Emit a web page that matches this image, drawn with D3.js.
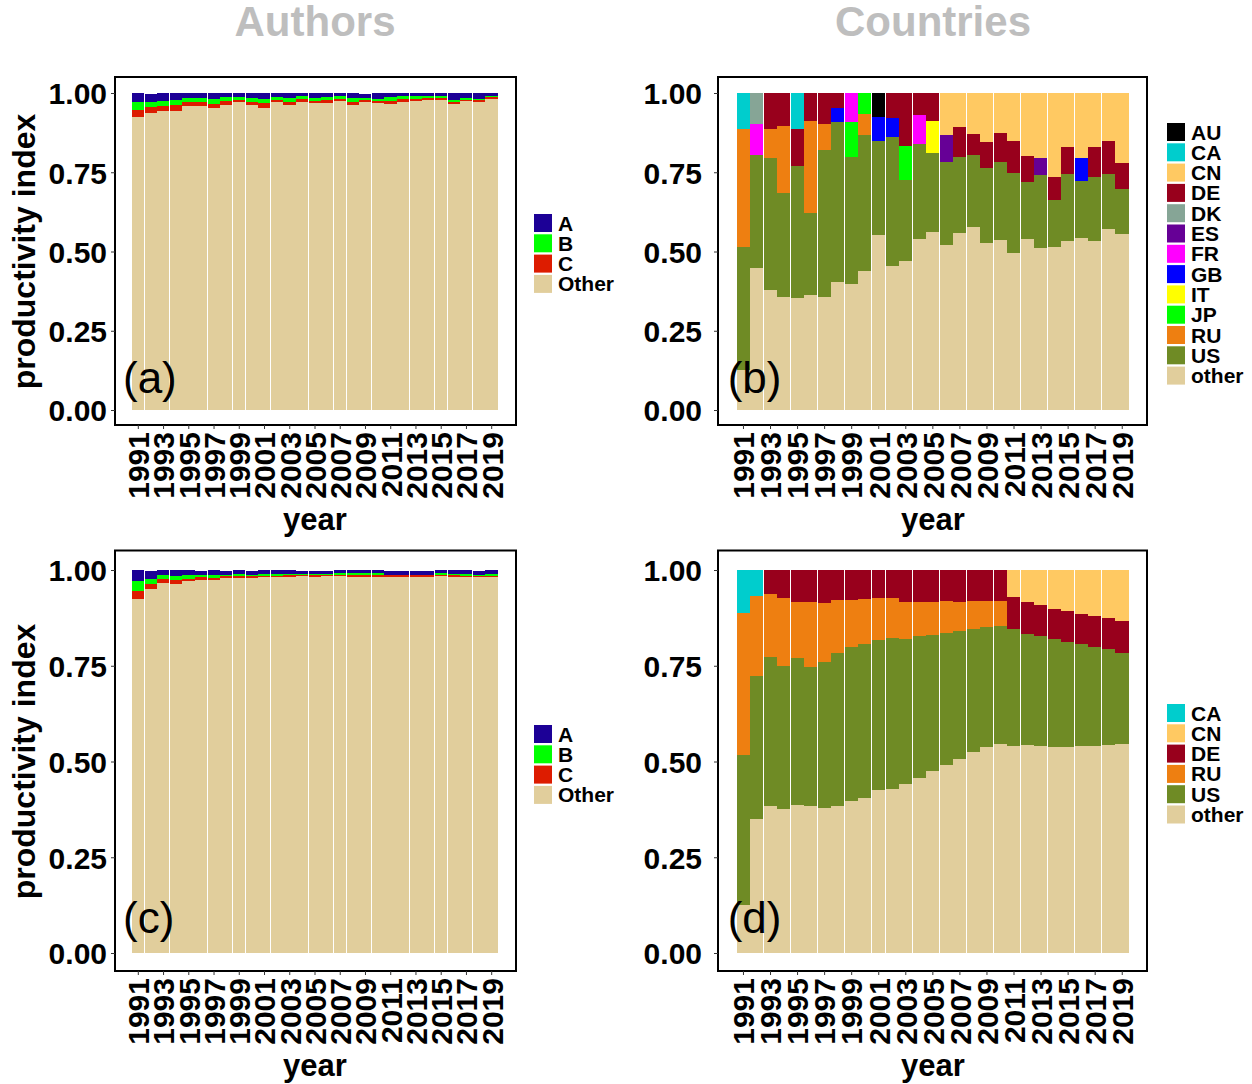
<!DOCTYPE html>
<html>
<head>
<meta charset="utf-8">
<script src="https://cdn.jsdelivr.net/npm/d3@7/dist/d3.min.js"></script>
<style>
  body { margin: 0; background: #fff; }
  svg { display: block; font-family: "Liberation Sans", Arial, Helvetica, sans-serif; }
</style>
</head>
<body>
<div id="chart"></div>
<script>
// years shown on every panel, and the ones that get a tick label
const years = [1991, 1992, 1993, 1994, 1995, 1996, 1997, 1998, 1999, 2000, 2001, 2002, 2003, 2004, 2005,
  2006, 2007, 2008, 2009, 2010, 2011, 2012, 2013, 2014, 2015, 2016, 2017, 2018, 2019]
const tickYears = [1991, 1993, 1995, 1997, 1999, 2001, 2003, 2005, 2007, 2009, 2011, 2013, 2015, 2017, 2019]
const yTicks = [0, 0.25, 0.5, 0.75, 1]

// panel (a) authors
const aOther = [.924, .937, .943, .943, .959, .959, .953, .962, .972, .962, .953, .972, .962, .972, .968, .968, .975, .962, .972, .968, .965, .972, .975, .978, .978, .965, .975, .972, .981]
const aC = [.022, .019, .016, .019, .013, .013, .012, .013, .006, .010, .016, .006, .010, .009, .006, .010, .006, .010, .006, .006, .009, .009, .006, .006, .006, .006, .003, .006, .006]
const aB = [.026, .016, .016, .016, .012, .012, .016, .012, .010, .012, .013, .010, .012, .010, .010, .009, .010, .012, .006, .006, .013, .010, .010, .006, .006, .006, .006, .003, .003]
const aA = [.028, .025, .025, .022, .016, .016, .019, .013, .012, .016, .019, .012, .016, .009, .016, .013, .009, .016, .013, .019, .013, .009, .009, .010, .010, .022, .016, .019, .010]

// panel (c) authors
const cOther = [.924, .950, .966, .963, .971, .974, .974, .979, .979, .979, .982, .982, .982, .984, .982, .984, .984, .982, .982, .982, .982, .982, .982, .982, .984, .982, .982, .982, .982]
const cC = [.021, .013, .010, .011, .005, .008, .005, .005, .005, .005, .003, .003, .005, .003, .005, .003, .003, .005, .005, .005, .005, .005, .005, .005, .003, .005, .003, .003, .003]
const cB = [.026, .014, .011, .010, .011, .005, .008, .003, .005, .003, .005, .005, .003, .003, .003, .003, .005, .005, .005, .005, .001, .001, .001, .001, .005, .003, .005, .003, .005]
const cA = [.029, .020, .013, .016, .013, .010, .013, .010, .011, .010, .010, .010, .010, .008, .008, .008, .008, .008, .008, .008, .010, .010, .010, .010, .008, .010, .010, .010, .010]

// panel (b) countries
const bOther = [.126, .447, .380, .355, .352, .364, .358, .405, .396, .437, .553, .455, .471, .540, .562, .521, .559, .578, .528, .537, .496, .540, .512, .515, .534, .543, .534, .572, .556]
const bUS = [.389, .357, .415, .328, .418, .256, .463, .504, .403, .430, .295, .406, .255, .299, .248, .261, .239, .226, .235, .245, .252, .179, .229, .148, .211, .180, .201, .173, .141]
const bRU = [.372, 0, .092, .212, 0, .292, .081, 0, 0, .067, 0, 0, 0, 0, 0, 0, 0, 0, 0, 0, 0, 0, 0, 0, 0, 0, 0, 0, 0]
const bJP = [0, 0, 0, 0, 0, 0, 0, 0, .110, .066, 0, 0, .106, 0, 0, 0, 0, 0, 0, 0, 0, 0, 0, 0, 0, 0, 0, 0, 0]
const bIT = [0, 0, 0, 0, 0, 0, 0, 0, 0, 0, 0, 0, 0, 0, .101, 0, 0, 0, 0, 0, 0, 0, 0, 0, 0, 0, 0, 0, 0]
const bGB = [0, 0, 0, 0, 0, 0, 0, .044, 0, 0, .076, .059, 0, 0, 0, 0, 0, 0, 0, 0, 0, 0, 0, 0, 0, .072, 0, 0, 0]
const bFR = [0, .099, 0, 0, 0, 0, 0, 0, .091, 0, 0, 0, 0, .091, 0, 0, 0, 0, 0, 0, 0, 0, 0, 0, 0, 0, 0, 0, 0]
const bES = [0, 0, 0, 0, 0, 0, 0, 0, 0, 0, 0, 0, 0, 0, 0, .085, 0, 0, 0, 0, 0, 0, .054, 0, 0, 0, 0, 0, 0]
const bDK = [0, .097, 0, 0, 0, 0, 0, 0, 0, 0, 0, 0, 0, 0, 0, 0, 0, 0, 0, 0, 0, 0, 0, 0, 0, 0, 0, 0, 0]
const bDE = [0, 0, .113, .105, .117, .088, .098, .047, 0, 0, 0, .080, .168, .070, .089, 0, .094, .066, .082, .091, .100, .082, 0, .072, .084, 0, .094, .103, .082]
const bCN = [0, 0, 0, 0, 0, 0, 0, 0, 0, 0, 0, 0, 0, 0, 0, .133, .108, .130, .155, .127, .152, .199, .205, .265, .171, .205, .171, .152, .221]
const bCA = [.113, 0, 0, 0, .113, 0, 0, 0, 0, 0, 0, 0, 0, 0, 0, 0, 0, 0, 0, 0, 0, 0, 0, 0, 0, 0, 0, 0, 0]
const bAU = [0, 0, 0, 0, 0, 0, 0, 0, 0, 0, .076, 0, 0, 0, 0, 0, 0, 0, 0, 0, 0, 0, 0, 0, 0, 0, 0, 0, 0]

// panel (d) countries
const dOther = [.125, .350, .384, .376, .386, .384, .379, .384, .397, .405, .426, .428, .441, .457, .475, .491, .507, .525, .538, .546, .540, .543, .540, .538, .538, .540, .540, .543, .546]
const dUS = [.392, .373, .389, .373, .384, .363, .381, .399, .402, .402, .391, .394, .379, .371, .355, .345, .334, .321, .313, .308, .306, .290, .288, .282, .274, .267, .259, .251, .237]
const dRU = [.371, .210, .164, .178, .146, .169, .154, .139, .123, .117, .110, .105, .096, .088, .086, .083, .075, .073, .068, .065, 0, 0, 0, 0, 0, 0, 0, 0, 0]
const dDE = [0, 0, .063, .073, .084, .084, .086, .078, .078, .076, .073, .073, .084, .084, .084, .081, .084, .081, .081, .081, .083, .083, .081, .078, .081, .078, .081, .081, .084]
const dCN = [0, 0, 0, 0, 0, 0, 0, 0, 0, 0, 0, 0, 0, 0, 0, 0, 0, 0, 0, 0, .071, .084, .091, .102, .107, .115, .120, .125, .133]
const dCA = [.112, .067, 0, 0, 0, 0, 0, 0, 0, 0, 0, 0, 0, 0, 0, 0, 0, 0, 0, 0, 0, 0, 0, 0, 0, 0, 0, 0, 0]

// legend order (top to bottom); stacks go the other way
const authorKeys = ['A', 'B', 'C', 'Other']
const countryKeysB = ['AU', 'CA', 'CN', 'DE', 'DK', 'ES', 'FR', 'GB', 'IT', 'JP', 'RU', 'US', 'other']
const countryKeysD = ['CA', 'CN', 'DE', 'RU', 'US', 'other']

const colors = {
  A: '#1c0096', B: '#00ff00', C: '#dd1c00', Other: '#e1ce9c',
  AU: '#000000', CA: '#00cdcd', CN: '#ffc962', DE: '#98001c', DK: '#86a596', ES: '#660096',
  FR: '#ff00ff', GB: '#0000ff', IT: '#ffff00', JP: '#00ff00', RU: '#ee7f11', US: '#6f8b25', other: '#e1ce9c'
}

const width = 1252
const height = 1084

const svg = d3.select('#chart').append('svg')
  .attr('width', width)
  .attr('height', height)

svg.append('text').attr('x', 315).attr('y', 36).attr('text-anchor', 'middle')
  .attr('font-size', 42).attr('font-weight', 'bold').attr('fill', '#bebebe').text('Authors')
svg.append('text').attr('x', 933).attr('y', 36).attr('text-anchor', 'middle')
  .attr('font-size', 42).attr('font-weight', 'bold').attr('fill', '#bebebe').text('Countries')

const panels = [
  { tag: '(a)', keys: authorKeys, series: { A: aA, B: aB, C: aC, Other: aOther },
    box: [115, 77, 516, 425], xr: [132, 498], yr: [410, 93], pad: 4, ylab: true, legX: 534, legY: 214, tagY: 393 },
  { tag: '(b)', keys: countryKeysB,
    series: { AU: bAU, CA: bCA, CN: bCN, DE: bDE, DK: bDK, ES: bES, FR: bFR, GB: bGB, IT: bIT, JP: bJP, RU: bRU, US: bUS, other: bOther },
    box: [718, 77, 1147, 425], xr: [736.7, 1129], yr: [410, 93], pad: 12, ylab: false, legX: 1167, legY: 123, tagY: 393 },
  { tag: '(c)', keys: authorKeys, series: { A: cA, B: cB, C: cC, Other: cOther },
    box: [115, 550.5, 516, 971], xr: [132, 498], yr: [953, 570], pad: 4, ylab: true, legX: 534, legY: 725, tagY: 933 },
  { tag: '(d)', keys: countryKeysD, series: { CA: dCA, CN: dCN, DE: dDE, RU: dRU, US: dUS, other: dOther },
    box: [718, 550.5, 1147, 971], xr: [736.7, 1129], yr: [953, 570], pad: 12, ylab: false, legX: 1167, legY: 704, tagY: 933 }
]

panels.forEach(drawPanel)

function drawPanel(p) {
  const [bx0, by0, bx1, by1] = p.box
  const rows = years.map((year, i) => {
    const row = { year }
    p.keys.forEach(k => { row[k] = p.series[k][i] })
    return row
  })
  const stackKeys = p.keys.slice().reverse()
  const stacked = d3.stack().keys(stackKeys)(rows)

  const x = d3.scaleBand().domain(years).range(p.xr).padding(0)
  const y = d3.scaleLinear().domain([0, 1]).range(p.yr)

  const g = svg.append('g')

  g.append('g')
    .selectAll('g')
    .data(stacked)
    .join('g')
    .attr('fill', d => colors[d.key])
    .selectAll('rect')
    .data(d => d)
    .join('rect')
    .attr('shape-rendering', 'crispEdges')
    .attr('x', d => x(d.data.year))
    .attr('width', x.bandwidth() - 0.5)
    .attr('y', d => y(d[1]))
    .attr('height', d => Math.max(0, y(d[0]) - y(d[1])))

  // panel tag
  g.append('text')
    .attr('x', p.xr[0] - 9)
    .attr('y', p.tagY)
    .attr('font-size', 44)
    .text(p.tag)

  // frame
  g.append('rect')
    .attr('x', bx0).attr('y', by0)
    .attr('width', bx1 - bx0).attr('height', by1 - by0)
    .attr('fill', 'none').attr('stroke', '#000').attr('stroke-width', 2)

  // y axis
  const yAxis = g.append('g')
    .attr('transform', `translate(${bx0},0)`)
    .call(d3.axisLeft(y).tickValues(yTicks).tickFormat(d3.format('.2f')).tickSize(4).tickPadding(p.pad))
  yAxis.select('.domain').remove()
  yAxis.selectAll('text')
    .attr('font-family', null)
    .attr('font-size', 30)
    .attr('font-weight', 'bold')
    .attr('fill', '#000')
    .attr('dy', '0.36em')
  yAxis.selectAll('line').attr('stroke', '#333')

  // x axis
  const xAxis = g.append('g')
    .attr('transform', `translate(0,${by1})`)
    .call(d3.axisBottom(x).tickValues(tickYears).tickSize(4))
  xAxis.select('.domain').remove()
  xAxis.selectAll('line').attr('stroke', '#333')
  xAxis.selectAll('text')
    .attr('font-family', null)
    .attr('font-size', 30)
    .attr('font-weight', 'bold')
    .attr('fill', '#000')
    .attr('text-anchor', 'end')
    .attr('transform', 'rotate(-90)')
    .attr('x', -7)
    .attr('y', 0)
    .attr('dy', '0.36em')

  g.append('text')
    .attr('x', (p.xr[0] + p.xr[1]) / 2)
    .attr('y', by1 + 105)
    .attr('text-anchor', 'middle')
    .attr('font-size', 31)
    .attr('font-weight', 'bold')
    .text('year')

  if (p.ylab) {
    const cy = (p.yr[0] + p.yr[1]) / 2
    g.append('text')
      .attr('transform', `translate(35,${cy}) rotate(-90)`)
      .attr('text-anchor', 'middle')
      .attr('font-size', 32)
      .attr('font-weight', 'bold')
      .text('productivity index')
  }

  // legend
  const leg = g.append('g')
    .selectAll('g')
    .data(p.keys)
    .join('g')
    .attr('transform', (d, i) => `translate(${p.legX},${p.legY + i * 20.3})`)
  leg.append('rect')
    .attr('width', 18).attr('height', 18)
    .attr('fill', d => colors[d])
  leg.append('text')
    .attr('x', 24).attr('y', 9).attr('dy', '0.36em')
    .attr('font-size', 21).attr('font-weight', 'bold')
    .text(d => d)
}
</script>
</body>
</html>
